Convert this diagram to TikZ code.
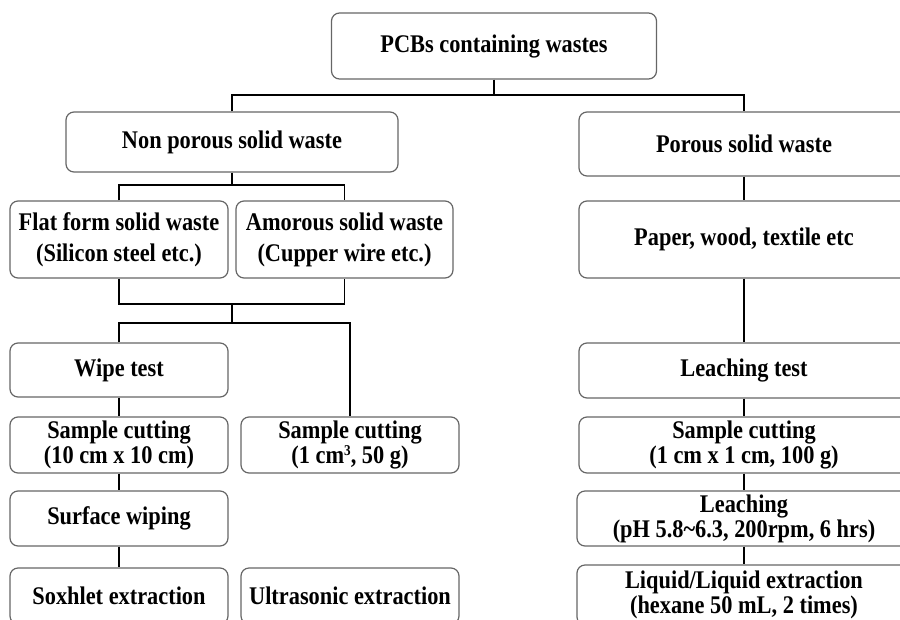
\documentclass[tikz,border=0pt]{standalone}
\usepackage{fontspec}
\setmainfont{Liberation Serif}[FakeStretch=0.88]
\begin{document}
\begin{tikzpicture}[x=1pt,y=-1pt,
    box/.style={draw=black!60, line width=1.2pt, rounded corners=8pt, align=center, inner sep=0pt,
        font=\fontsize{25.4}{25}\selectfont\bfseries},
    link/.style={line width=1.8pt}]
    \useasboundingbox (0,0) rectangle (900,619);
    \clip (0,0) rectangle (900,619);
    \node [box, minimum width=325, minimum height=66] (pcb) at (494,46) {PCBs containing wastes};
    \node [box, minimum width=332, minimum height=60] (nonpor) at (232,142) {Non porous solid waste};
    \node [box, minimum width=330, minimum height=64] (porous) at (744,144) {Porous solid waste};
    \node [box, minimum width=218, minimum height=77] (flat) at (119,239.5) {Flat form solid waste\\[6pt](Silicon steel etc.)};
    \node [box, minimum width=217, minimum height=77] (amor) at (344.5,239.5) {Amorous solid waste\\[6pt](Cupper wire etc.)};
    \node [box, minimum width=330, minimum height=77] (paper) at (744,239.5) {Paper, wood, textile etc};
    \node [box, minimum width=218, minimum height=54] (wipe) at (119,370) {Wipe test};
    \node [box, minimum width=218, minimum height=56] (cutw) at (119,445) {Sample cutting\\(10 cm x 10 cm)};
    \node [box, minimum width=218, minimum height=56] (cuta) at (350,445) {Sample cutting\\(1 cm{\fontsize{15}{15}\selectfont\raisebox{8pt}{3}}, 50 g)};
    \node [box, minimum width=218, minimum height=55] (surf) at (119,518.5) {Surface wiping};
    \node [box, minimum width=218, minimum height=56] (soxh) at (119,596) {Soxhlet extraction};
    \node [box, minimum width=218, minimum height=56] (ultra) at (350,596) {Ultrasonic extraction};
    \node [box, minimum width=330, minimum height=55] (ltest) at (744,370.5) {Leaching test};
    \node [box, minimum width=330, minimum height=56] (cutp) at (744,445) {Sample cutting\\(1 cm x 1 cm, 100 g)};
    \node [box, minimum width=334, minimum height=55] (leach) at (744,518.5) {Leaching\\(pH 5.8\textasciitilde6.3, 200rpm, 6 hrs)};
    \node [box, minimum width=334, minimum height=60] (liquid) at (744,595) {Liquid/Liquid extraction\\(hexane 50 mL, 2 times)};
    \coordinate (fork1) at (494,95);
    \coordinate (fork2) at (232,185);
    \coordinate (merge) at (232,304);
    \coordinate (fork3) at (232,323);
    \draw [link] (pcb.south) -- (fork1);
    \draw [link] (nonpor.north) |- (fork1) -| (porous.north);
    \draw [link] (nonpor.south) -- (fork2);
    \draw [link] (flat.north) |- (fork2) -| (amor.north);
    \draw [link] (flat.south) |- (merge) -| (amor.south);
    \draw [link] (merge) -- (fork3);
    \draw [link] (wipe.north) |- (fork3) -| (cuta.north);
    \draw [link] (wipe.south) -- (cutw.north);
    \draw [link] (cutw.south) -- (surf.north);
    \draw [link] (surf.south) -- (soxh.north);
    \draw [link] (porous.south) -- (paper.north);
    \draw [link] (paper.south) -- (ltest.north);
    \draw [link] (ltest.south) -- (cutp.north);
    \draw [link] (cutp.south) -- (leach.north);
    \draw [link] (leach.south) -- (liquid.north);
\end{tikzpicture}
\end{document}
